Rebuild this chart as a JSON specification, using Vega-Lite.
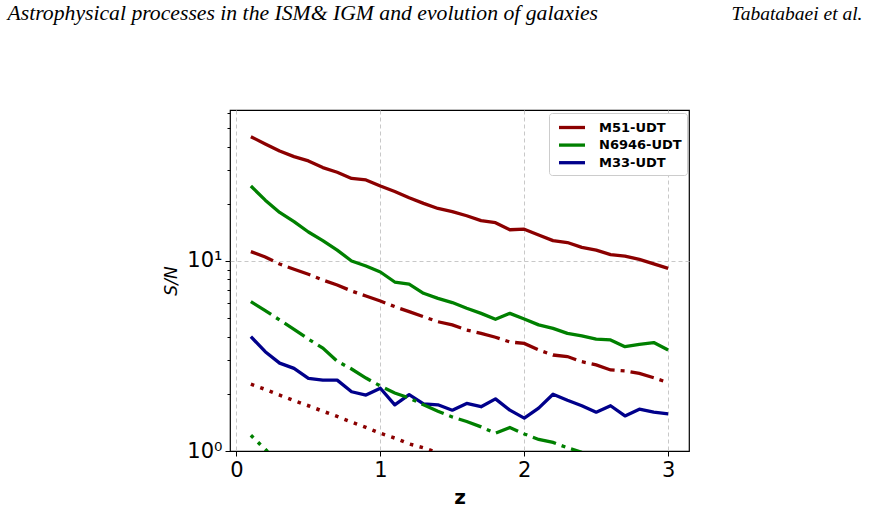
{
  "$schema": "https://vega.github.io/schema/vega-lite/v6.json",
  "width": 459,
  "height": 341,
  "autosize": {"type": "none"},
  "padding": {"left": 230, "top": 110, "right": 180, "bottom": 62},
  "background": "white",
  "config": {
    "view": {"stroke": "#000000", "strokeWidth": 1.2},
    "font": "DejaVu Sans"
  },
  "datasets": {
    "solid": [
      {"z": 0.1, "sn": 45.1, "galaxy": "M51-UDT"}, {"z": 0.2, "sn": 41.3, "galaxy": "M51-UDT"}, {"z": 0.3, "sn": 37.9, "galaxy": "M51-UDT"}, {"z": 0.4, "sn": 35.4, "galaxy": "M51-UDT"}, {"z": 0.5, "sn": 33.6, "galaxy": "M51-UDT"},
      {"z": 0.6, "sn": 31.0, "galaxy": "M51-UDT"}, {"z": 0.7, "sn": 29.3, "galaxy": "M51-UDT"}, {"z": 0.8, "sn": 27.2, "galaxy": "M51-UDT"}, {"z": 0.9, "sn": 26.7, "galaxy": "M51-UDT"}, {"z": 1.0, "sn": 24.8, "galaxy": "M51-UDT"},
      {"z": 1.1, "sn": 23.2, "galaxy": "M51-UDT"}, {"z": 1.2, "sn": 21.5, "galaxy": "M51-UDT"}, {"z": 1.3, "sn": 20.1, "galaxy": "M51-UDT"}, {"z": 1.4, "sn": 18.9, "galaxy": "M51-UDT"}, {"z": 1.5, "sn": 18.2, "galaxy": "M51-UDT"},
      {"z": 1.6, "sn": 17.3, "galaxy": "M51-UDT"}, {"z": 1.7, "sn": 16.3, "galaxy": "M51-UDT"}, {"z": 1.8, "sn": 15.9, "galaxy": "M51-UDT"}, {"z": 1.9, "sn": 14.6, "galaxy": "M51-UDT"}, {"z": 2.0, "sn": 14.7, "galaxy": "M51-UDT"},
      {"z": 2.1, "sn": 13.7, "galaxy": "M51-UDT"}, {"z": 2.2, "sn": 12.8, "galaxy": "M51-UDT"}, {"z": 2.3, "sn": 12.5, "galaxy": "M51-UDT"}, {"z": 2.4, "sn": 11.8, "galaxy": "M51-UDT"}, {"z": 2.5, "sn": 11.4, "galaxy": "M51-UDT"},
      {"z": 2.6, "sn": 10.8, "galaxy": "M51-UDT"}, {"z": 2.7, "sn": 10.6, "galaxy": "M51-UDT"}, {"z": 2.8, "sn": 10.2, "galaxy": "M51-UDT"}, {"z": 2.9, "sn": 9.65, "galaxy": "M51-UDT"}, {"z": 3.0, "sn": 9.15, "galaxy": "M51-UDT"},

      {"z": 0.1, "sn": 24.8, "galaxy": "N6946-UDT"}, {"z": 0.2, "sn": 20.9, "galaxy": "N6946-UDT"}, {"z": 0.3, "sn": 18.0, "galaxy": "N6946-UDT"}, {"z": 0.4, "sn": 16.1, "galaxy": "N6946-UDT"}, {"z": 0.5, "sn": 14.2, "galaxy": "N6946-UDT"},
      {"z": 0.6, "sn": 12.8, "galaxy": "N6946-UDT"}, {"z": 0.7, "sn": 11.4, "galaxy": "N6946-UDT"}, {"z": 0.8, "sn": 10.0, "galaxy": "N6946-UDT"}, {"z": 0.9, "sn": 9.41, "galaxy": "N6946-UDT"}, {"z": 1.0, "sn": 8.75, "galaxy": "N6946-UDT"},
      {"z": 1.1, "sn": 7.75, "galaxy": "N6946-UDT"}, {"z": 1.2, "sn": 7.56, "galaxy": "N6946-UDT"}, {"z": 1.3, "sn": 6.76, "galaxy": "N6946-UDT"}, {"z": 1.4, "sn": 6.36, "galaxy": "N6946-UDT"}, {"z": 1.5, "sn": 6.04, "galaxy": "N6946-UDT"},
      {"z": 1.6, "sn": 5.64, "galaxy": "N6946-UDT"}, {"z": 1.7, "sn": 5.30, "galaxy": "N6946-UDT"}, {"z": 1.8, "sn": 4.93, "galaxy": "N6946-UDT"}, {"z": 1.9, "sn": 5.30, "galaxy": "N6946-UDT"}, {"z": 2.0, "sn": 4.95, "galaxy": "N6946-UDT"},
      {"z": 2.1, "sn": 4.61, "galaxy": "N6946-UDT"}, {"z": 2.2, "sn": 4.42, "galaxy": "N6946-UDT"}, {"z": 2.3, "sn": 4.16, "galaxy": "N6946-UDT"}, {"z": 2.4, "sn": 4.03, "galaxy": "N6946-UDT"}, {"z": 2.5, "sn": 3.88, "galaxy": "N6946-UDT"},
      {"z": 2.6, "sn": 3.84, "galaxy": "N6946-UDT"}, {"z": 2.7, "sn": 3.54, "galaxy": "N6946-UDT"}, {"z": 2.8, "sn": 3.64, "galaxy": "N6946-UDT"}, {"z": 2.9, "sn": 3.72, "galaxy": "N6946-UDT"}, {"z": 3.0, "sn": 3.40, "galaxy": "N6946-UDT"},

      {"z": 0.1, "sn": 4.00, "galaxy": "M33-UDT"}, {"z": 0.2, "sn": 3.33, "galaxy": "M33-UDT"}, {"z": 0.3, "sn": 2.90, "galaxy": "M33-UDT"}, {"z": 0.4, "sn": 2.72, "galaxy": "M33-UDT"}, {"z": 0.5, "sn": 2.41, "galaxy": "M33-UDT"},
      {"z": 0.6, "sn": 2.36, "galaxy": "M33-UDT"}, {"z": 0.7, "sn": 2.36, "galaxy": "M33-UDT"}, {"z": 0.8, "sn": 2.05, "galaxy": "M33-UDT"}, {"z": 0.9, "sn": 1.97, "galaxy": "M33-UDT"}, {"z": 1.0, "sn": 2.14, "galaxy": "M33-UDT"},
      {"z": 1.1, "sn": 1.75, "galaxy": "M33-UDT"}, {"z": 1.2, "sn": 1.98, "galaxy": "M33-UDT"}, {"z": 1.3, "sn": 1.77, "galaxy": "M33-UDT"}, {"z": 1.4, "sn": 1.75, "galaxy": "M33-UDT"}, {"z": 1.5, "sn": 1.64, "galaxy": "M33-UDT"},
      {"z": 1.6, "sn": 1.78, "galaxy": "M33-UDT"}, {"z": 1.7, "sn": 1.71, "galaxy": "M33-UDT"}, {"z": 1.8, "sn": 1.88, "galaxy": "M33-UDT"}, {"z": 1.9, "sn": 1.64, "galaxy": "M33-UDT"}, {"z": 2.0, "sn": 1.49, "galaxy": "M33-UDT"},
      {"z": 2.1, "sn": 1.68, "galaxy": "M33-UDT"}, {"z": 2.2, "sn": 1.99, "galaxy": "M33-UDT"}, {"z": 2.3, "sn": 1.85, "galaxy": "M33-UDT"}, {"z": 2.4, "sn": 1.73, "galaxy": "M33-UDT"}, {"z": 2.5, "sn": 1.60, "galaxy": "M33-UDT"},
      {"z": 2.6, "sn": 1.73, "galaxy": "M33-UDT"}, {"z": 2.7, "sn": 1.53, "galaxy": "M33-UDT"}, {"z": 2.8, "sn": 1.66, "galaxy": "M33-UDT"}, {"z": 2.9, "sn": 1.60, "galaxy": "M33-UDT"}, {"z": 3.0, "sn": 1.57, "galaxy": "M33-UDT"}
    ],
    "dashdot": [
      {"z": 0.1, "sn": 11.2, "galaxy": "M51-UDT"}, {"z": 0.2, "sn": 10.5, "galaxy": "M51-UDT"}, {"z": 0.3, "sn": 9.64, "galaxy": "M51-UDT"}, {"z": 0.4, "sn": 9.04, "galaxy": "M51-UDT"}, {"z": 0.5, "sn": 8.51, "galaxy": "M51-UDT"},
      {"z": 0.6, "sn": 7.94, "galaxy": "M51-UDT"}, {"z": 0.7, "sn": 7.48, "galaxy": "M51-UDT"}, {"z": 0.8, "sn": 6.95, "galaxy": "M51-UDT"}, {"z": 0.9, "sn": 6.54, "galaxy": "M51-UDT"}, {"z": 1.0, "sn": 6.16, "galaxy": "M51-UDT"},
      {"z": 1.1, "sn": 5.75, "galaxy": "M51-UDT"}, {"z": 1.2, "sn": 5.41, "galaxy": "M51-UDT"}, {"z": 1.3, "sn": 5.09, "galaxy": "M51-UDT"}, {"z": 1.4, "sn": 4.79, "galaxy": "M51-UDT"}, {"z": 1.5, "sn": 4.61, "galaxy": "M51-UDT"},
      {"z": 1.6, "sn": 4.33, "galaxy": "M51-UDT"}, {"z": 1.7, "sn": 4.16, "galaxy": "M51-UDT"}, {"z": 1.8, "sn": 3.97, "galaxy": "M51-UDT"}, {"z": 1.9, "sn": 3.75, "galaxy": "M51-UDT"}, {"z": 2.0, "sn": 3.68, "galaxy": "M51-UDT"},
      {"z": 2.1, "sn": 3.40, "galaxy": "M51-UDT"}, {"z": 2.2, "sn": 3.20, "galaxy": "M51-UDT"}, {"z": 2.3, "sn": 3.14, "galaxy": "M51-UDT"}, {"z": 2.4, "sn": 2.95, "galaxy": "M51-UDT"}, {"z": 2.5, "sn": 2.84, "galaxy": "M51-UDT"},
      {"z": 2.6, "sn": 2.67, "galaxy": "M51-UDT"}, {"z": 2.7, "sn": 2.64, "galaxy": "M51-UDT"}, {"z": 2.8, "sn": 2.56, "galaxy": "M51-UDT"}, {"z": 2.9, "sn": 2.43, "galaxy": "M51-UDT"}, {"z": 3.0, "sn": 2.29, "galaxy": "M51-UDT"},

      {"z": 0.1, "sn": 6.11, "galaxy": "N6946-UDT"}, {"z": 0.2, "sn": 5.48, "galaxy": "N6946-UDT"}, {"z": 0.3, "sn": 4.89, "galaxy": "N6946-UDT"}, {"z": 0.4, "sn": 4.37, "galaxy": "N6946-UDT"}, {"z": 0.5, "sn": 3.88, "galaxy": "N6946-UDT"},
      {"z": 0.6, "sn": 3.48, "galaxy": "N6946-UDT"}, {"z": 0.7, "sn": 2.97, "galaxy": "N6946-UDT"}, {"z": 0.8, "sn": 2.70, "galaxy": "N6946-UDT"}, {"z": 0.9, "sn": 2.42, "galaxy": "N6946-UDT"}, {"z": 1.0, "sn": 2.20, "galaxy": "N6946-UDT"},
      {"z": 1.1, "sn": 2.02, "galaxy": "N6946-UDT"}, {"z": 1.2, "sn": 1.90, "galaxy": "N6946-UDT"}, {"z": 1.3, "sn": 1.75, "galaxy": "N6946-UDT"}, {"z": 1.4, "sn": 1.62, "galaxy": "N6946-UDT"}, {"z": 1.5, "sn": 1.51, "galaxy": "N6946-UDT"},
      {"z": 1.6, "sn": 1.43, "galaxy": "N6946-UDT"}, {"z": 1.7, "sn": 1.34, "galaxy": "N6946-UDT"}, {"z": 1.8, "sn": 1.24, "galaxy": "N6946-UDT"}, {"z": 1.9, "sn": 1.33, "galaxy": "N6946-UDT"}, {"z": 2.0, "sn": 1.23, "galaxy": "N6946-UDT"},
      {"z": 2.1, "sn": 1.15, "galaxy": "N6946-UDT"}, {"z": 2.2, "sn": 1.11, "galaxy": "N6946-UDT"}, {"z": 2.3, "sn": 1.04, "galaxy": "N6946-UDT"}, {"z": 2.4, "sn": 0.985, "galaxy": "N6946-UDT"}, {"z": 2.5, "sn": 0.95, "galaxy": "N6946-UDT"}
    ],
    "dotted": [
      {"z": 0.1, "sn": 2.25, "galaxy": "M51-UDT"}, {"z": 0.2, "sn": 2.11, "galaxy": "M51-UDT"}, {"z": 0.3, "sn": 1.97, "galaxy": "M51-UDT"}, {"z": 0.4, "sn": 1.84, "galaxy": "M51-UDT"}, {"z": 0.5, "sn": 1.73, "galaxy": "M51-UDT"},
      {"z": 0.6, "sn": 1.62, "galaxy": "M51-UDT"}, {"z": 0.7, "sn": 1.52, "galaxy": "M51-UDT"}, {"z": 0.8, "sn": 1.42, "galaxy": "M51-UDT"}, {"z": 0.9, "sn": 1.33, "galaxy": "M51-UDT"}, {"z": 1.0, "sn": 1.24, "galaxy": "M51-UDT"},
      {"z": 1.1, "sn": 1.17, "galaxy": "M51-UDT"}, {"z": 1.2, "sn": 1.09, "galaxy": "M51-UDT"}, {"z": 1.3, "sn": 1.04, "galaxy": "M51-UDT"}, {"z": 1.4, "sn": 0.98, "galaxy": "M51-UDT"}, {"z": 1.5, "sn": 0.93, "galaxy": "M51-UDT"},

      {"z": 0.1, "sn": 1.21, "galaxy": "N6946-UDT"}, {"z": 0.2, "sn": 1.02, "galaxy": "N6946-UDT"}, {"z": 0.3, "sn": 0.86, "galaxy": "N6946-UDT"}
    ]
  },
  "layer": [
    {
      "data": {"name": "solid"},
      "mark": {"type": "line", "strokeWidth": 3.3, "clip": true, "strokeJoin": "round"},
      "encoding": {
        "x": {
          "field": "z", "type": "quantitative",
          "scale": {"domain": [-0.045, 3.145], "nice": false, "zero": false},
          "axis": {
            "orient": "bottom", "values": [0, 1, 2, 3], "format": "d",
            "title": "z", "titleFontWeight": "bold", "titleFontSize": 20, "titleColor": "#000000",
            "titleBaseline": "alphabetic", "titleY": 52,
            "labelFontSize": 21, "labelColor": "#000000", "labelPadding": 3, "labelFlush": false,
            "tickSize": 5, "tickColor": "#000000", "tickWidth": 1, "domain": false,
            "grid": true, "gridDash": [4, 3], "gridColor": "#c8c8c8", "gridWidth": 1
          }
        },
        "y": {
          "field": "sn", "type": "quantitative",
          "scale": {"type": "log", "domain": [1, 62.3], "nice": false},
          "axis": {
            "orient": "left", "values": [1, 2, 3, 4, 5, 6, 7, 8, 9, 10, 20, 30, 40, 50, 60],
            "labelExpr": "datum.value == 1 ? '10⁰' : datum.value == 10 ? '10¹' : ''",
            "labelFontSize": 21, "labelColor": "#000000", "labelPadding": 3, "labelFlush": false, "labelOverlap": false,
            "tickColor": "#000000", "tickWidth": 1,
            "tickSize": {"condition": {"test": "datum.value == 1 || datum.value == 10", "value": 5}, "value": 3},
            "grid": true, "gridDash": [4, 3], "gridColor": "#c8c8c8", "gridWidth": 1,
            "gridOpacity": {"condition": {"test": "datum.value == 10", "value": 1}, "value": 0},
            "domain": false,
            "title": "S/N", "titleFontStyle": "italic", "titleFontWeight": "normal", "titleFontSize": 17,
            "titleColor": "#000000", "titleAngle": 270, "titleBaseline": "alphabetic", "titleAlign": "center",
            "titleX": -54, "titleY": 170.5
          }
        },
        "color": {
          "field": "galaxy", "type": "nominal",
          "scale": {"domain": ["M51-UDT", "N6946-UDT", "M33-UDT"], "range": ["#8b0000", "#008000", "#00008b"]},
          "legend": {
            "title": null, "orient": "top-right", "offset": 2.5, "padding": 5,
            "strokeColor": "#cccccc", "cornerRadius": 3, "fillColor": "#ffffff",
            "symbolType": "M-0.6,0H2.87", "symbolStrokeWidth": 3.3, "symbolSize": 225,
            "labelFont": "DejaVu Sans", "labelFontWeight": "bold", "labelFontSize": 13, "labelColor": "#000000",
            "labelOffset": 26, "rowPadding": 0.6
          }
        }
      }
    },
    {
      "data": {"name": "dashdot"},
      "mark": {"type": "line", "strokeWidth": 3.3, "clip": true, "strokeDash": [24, 6, 4, 6], "strokeCap": "butt"},
      "encoding": {
        "x": {
          "field": "z", "type": "quantitative",
          "scale": {"domain": [-0.045, 3.145], "nice": false, "zero": false},
          "axis": {
            "orient": "top", "labels": false, "ticks": false, "domain": false, "grid": false,
            "title": "Astrophysical processes in the ISM& IGM and evolution of galaxies",
            "titleFont": "Liberation Serif", "titleFontStyle": "italic", "titleFontWeight": "normal",
            "titleFontSize": 21.7, "titleColor": "#000000", "titleAlign": "left", "titleAnchor": "start",
            "titleBaseline": "alphabetic", "titleAngle": 0, "titleX": -223, "titleY": -91
          }
        },
        "y": {
          "field": "sn", "type": "quantitative",
          "scale": {"type": "log", "domain": [1, 62.3], "nice": false},
          "axis": {
            "orient": "right", "labels": false, "ticks": false, "domain": false, "grid": false,
            "title": "Tabatabaei et al.",
            "titleFont": "Liberation Serif", "titleFontStyle": "italic", "titleFontWeight": "normal",
            "titleFontSize": 19.5, "titleColor": "#000000", "titleAlign": "right",
            "titleBaseline": "alphabetic", "titleAngle": 0, "titleX": 173, "titleY": -91
          }
        },
        "color": {"field": "galaxy", "type": "nominal", "legend": null}
      }
    },
    {
      "data": {"name": "dotted"},
      "mark": {"type": "line", "strokeWidth": 3.5, "clip": true, "strokeDash": [3.5, 6.5], "strokeCap": "butt"},
      "encoding": {
        "x": {"field": "z", "type": "quantitative", "scale": {"domain": [-0.045, 3.145], "nice": false, "zero": false}, "axis": null},
        "y": {"field": "sn", "type": "quantitative", "scale": {"type": "log", "domain": [1, 62.3], "nice": false}, "axis": null},
        "color": {"field": "galaxy", "type": "nominal", "legend": null}
      }
    }
  ],
  "resolve": {"axis": {"x": "independent", "y": "independent"}, "legend": {"color": "independent"}}
}
